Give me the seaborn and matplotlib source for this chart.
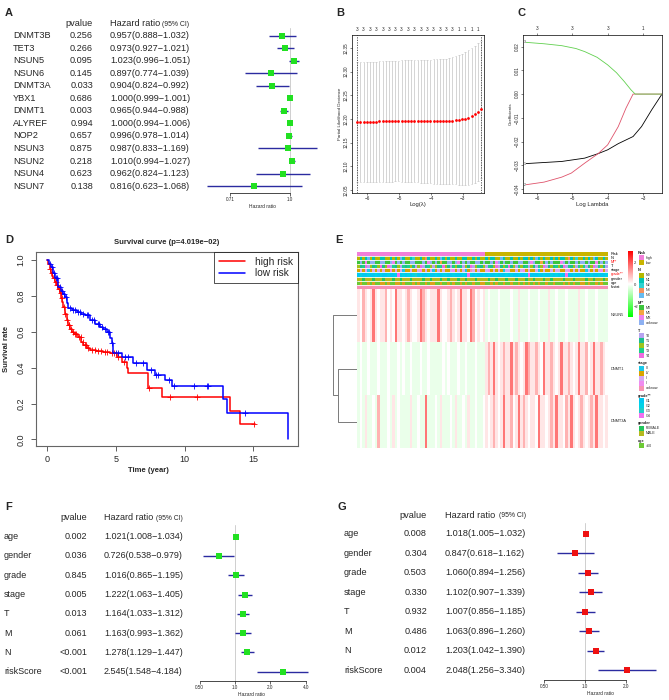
import numpy as np
import matplotlib
matplotlib.use("Agg")
import matplotlib.pyplot as plt
import seaborn as sns
from matplotlib.colors import ListedColormap, LinearSegmentedColormap
from matplotlib.lines import Line2D
from matplotlib.patches import Rectangle
from matplotlib.ticker import NullLocator

# ---------------- A : univariate cox, m5C regulators ----------------
a_genes = ["DNMT3B", "TET3", "NSUN5", "NSUN6", "DNMT3A", "YBX1", "DNMT1",
           "ALYREF", "NOP2", "NSUN3", "NSUN2", "NSUN4", "NSUN7"]
a_pval = ["0.256", "0.266", "0.095", "0.145", "0.033", "0.686", "0.003",
          "0.994", "0.657", "0.875", "0.218", "0.623", "0.138"]
a_hr = [0.957, 0.973, 1.023, 0.897, 0.904, 1.000, 0.965, 1.000, 0.996, 0.987, 1.010, 0.962, 0.816]
a_low = [0.888, 0.927, 0.996, 0.774, 0.824, 0.999, 0.944, 0.994, 0.978, 0.833, 0.994, 0.824, 0.623]
a_high = [1.032, 1.021, 1.051, 1.039, 0.992, 1.001, 0.988, 1.006, 1.014, 1.169, 1.027, 1.123, 1.068]

# ---------------- B : lasso cross validation ----------------
b_loglam = [-6.31, -6.21, -6.11, -6.01, -5.91, -5.81, -5.71, -5.61, -5.51, -5.41,
            -5.31, -5.21, -5.12, -5.02, -4.92, -4.82, -4.72, -4.62, -4.52, -4.42,
            -4.32, -4.22, -4.12, -4.02, -3.92, -3.82, -3.72, -3.62, -3.52, -3.43,
            -3.33, -3.23, -3.13, -3.03, -2.93, -2.83, -2.73, -2.63, -2.53, -2.44]
b_dev = [12.194, 12.194, 12.194, 12.194, 12.194, 12.194, 12.194, 12.195, 12.195, 12.195,
         12.195, 12.195, 12.196, 12.196, 12.196, 12.196, 12.196, 12.196, 12.196, 12.196,
         12.195, 12.195, 12.195, 12.195, 12.195, 12.195, 12.195, 12.195, 12.195, 12.196,
         12.196, 12.197, 12.198, 12.199, 12.201, 12.203, 12.206, 12.210, 12.215, 12.220]
b_se = [0.127, 0.127, 0.127, 0.127, 0.127, 0.127, 0.127, 0.127, 0.127, 0.127,
        0.127, 0.127, 0.127, 0.127, 0.128, 0.128, 0.128, 0.128, 0.128, 0.129,
        0.129, 0.129, 0.130, 0.130, 0.131, 0.131, 0.131, 0.132, 0.132, 0.133,
        0.134, 0.135, 0.137, 0.139, 0.140, 0.142, 0.143, 0.144, 0.145, 0.145]
b_nz = ["3", "3", "3", "3", "3", "3", "3", "3", "3", "3",
        "3", "3", "3", "3", "3", "3", "1", "1", "1", "1"]

# ---------------- C : lasso coefficient paths ----------------
c_green_x = [-6.31, -5.8, -5.3, -4.9, -4.65, -4.3, -4.0, -3.75, -3.53, -3.34, -3.22, -2.46]
c_green_y = [0.0218, 0.0212, 0.0204, 0.0192, 0.0179, 0.0155, 0.0123, 0.0090, 0.0053, 0.0018, 0.0, 0.0]
c_red_x = [-6.31, -5.8, -5.3, -5.03, -4.65, -4.27, -4.0, -3.7, -3.48, -3.28, -2.46]
c_red_y = [-0.0382, -0.0371, -0.0350, -0.0333, -0.0291, -0.0251, -0.0214, -0.0137, -0.0059, 0.0, 0.0]
c_black_x = [-6.31, -5.3, -4.65, -4.27, -4.0, -3.7, -3.28, -3.04, -2.75, -2.46]
c_black_y = [-0.0293, -0.0284, -0.0270, -0.0251, -0.0235, -0.0209, -0.0179, -0.0137, -0.0066, 0.0]
c_top_ticks = [-6, -5, -4, -3]
c_top_labels = ["3", "3", "3", "1"]

# ---------------- D : Kaplan-Meier ----------------
d_t_high = [0, 0.1, 0.2, 0.3, 0.4, 0.48, 0.6, 0.7, 0.8, 0.97, 1.05, 1.12, 1.2, 1.3, 1.45,
            1.55, 1.7, 1.81, 2.0, 2.29, 2.5, 2.66, 2.9, 3.14, 3.6, 4.11, 4.59, 5.08, 5.44,
            5.8, 5.92, 7.38, 8.35, 13.3, 14.03, 15.1]
d_s_high = [1.0, 0.98, 0.95, 0.93, 0.91, 0.898, 0.88, 0.86, 0.84, 0.814, 0.79, 0.765, 0.74,
            0.70, 0.665, 0.64, 0.615, 0.60, 0.585, 0.572, 0.545, 0.526, 0.51, 0.498, 0.493,
            0.489, 0.479, 0.461, 0.433, 0.396, 0.368, 0.284, 0.234, 0.158, 0.084, 0.084]
d_t_low = [0, 0.15, 0.3, 0.45, 0.6, 0.85, 1.0, 1.15, 1.33, 1.45, 1.57, 1.8, 2.18, 2.5, 2.78,
           3.14, 3.5, 3.87, 4.1, 4.35, 4.6, 4.72, 4.83, 5.44, 6.29, 7.26, 7.86, 8.59, 9.07,
           12.77, 13.06, 17.53]
d_s_low = [1.0, 0.98, 0.96, 0.93, 0.90, 0.851, 0.83, 0.81, 0.795, 0.76, 0.73, 0.72, 0.712,
           0.70, 0.693, 0.665, 0.645, 0.628, 0.615, 0.60, 0.565, 0.535, 0.48, 0.461, 0.424,
           0.386, 0.359, 0.331, 0.297, 0.223, 0.148, 0.0]
d_cens_high = [0.25, 0.35, 0.55, 0.65, 0.75, 0.9, 1.0, 1.1, 1.25, 1.35, 1.5, 1.6, 1.65, 1.75,
               1.9, 2.05, 2.15, 2.35, 2.45, 2.6, 2.75, 2.85, 3.0, 3.3, 3.5, 3.7, 3.9, 4.2,
               4.4, 4.7, 4.9, 5.2, 5.6, 7.45, 8.95, 10.9, 15.05]
d_cens_low = [0.2, 0.35, 0.5, 0.65, 0.75, 0.95, 1.1, 1.25, 1.4, 1.7, 1.9, 2.05, 2.3, 2.4,
              2.6, 2.9, 3.0, 3.3, 3.4, 3.7, 3.8, 4.0, 4.2, 4.45, 4.55, 4.75, 5.0, 5.2, 5.7,
              5.9, 6.5, 7.0, 7.6, 7.9, 8.1, 8.85, 9.2, 10.65, 11.6, 11.7, 14.4]

# ---------------- E : heatmap (one char per sample) ----------------
e_genes = ["NSUN5", "DNMT1", "DNMT3A"]
e_levels = {"g": -0.25, "w": 0.0, "p": 0.3, "r": 0.9, "R": 1.6}
e_nsun5 = ("pwrpwpRpwp" "prwpwRppwp" "rpwwpRrpwp" "ppRpwwprpw" "pRppwRrwpw"
           "pgwgggwggg" "gwggpgggwg" "ggwgggpggw" "gggwggggpg" "gwgggwgggg")
e_dnmt1 = ("gwggwgggwg" "ggwgggwgwg" "gwgggwggwg" "ggggwgwggg" "wggwgggwgg"
           "gprpRpwprp" "pRprpwpRrp" "prpwRpprpw" "pRpprpwpRp" "prwpRpprpw")
e_dnmt3a = ("gwgpggwgrg" "ggwgpgwggg" "gpggwggRgg" "gwgpgggwgp" "ggwgpggwgg"
            "wpwprpwpRp" "prwpRprpwp" "pwRppwprpR" "ppwrpRpwpr" "pwprpRppwp")

ann_names = ["Risk", "N", "M**", "T", "stage", "grade**", "gender", "age", "fustat"]
ann_risk = ("hhhhhhhhhh" "hhhhhhhhhh" "hhhhhhhhhh" "hhhhhhhhhh" "hhhhhhhhhh"
            "hlllllllll" "llllllllll" "llllllllll" "llllllllll" "llllllllll")
ann_n = ("0101x01001" "1001010x10" "0120010310" "010x101001" "0011001010"
         "0101100x10" "0100101101" "0x10100101" "0110310200" "1010x10010")
ann_m = ("gugxguuggu" "ugguxgugug" "guugggugxu" "gug1gguugu" "xgugugguug"
         "uggugxugug" "gugguuggux" "ugg1gugugg" "gxuguggugu" "uguggxgugu")
ann_t = ("2134021324" "1240312031" "3210240132" "0213421032" "1302140231"
         "2031240123" "4120321302" "1032401213" "2140312032" "3012403210")
ann_stage = ("ylylcylyly" "lyypylylcy" "ylyylpylyl" "cylylyylpy" "lylcyulyly"
             "ylpylylycl" "lyylylpyly" "ylcylyylyl" "lyylpylyly" "yclylylpyl")
ann_grade = ("abaabaabab" "aabaabdaba" "babcabaaba" "abaabbaaba" "aabadbabaa"
             "babaabaaab" "abaabaabda" "aababaabab" "abadaabaab" "baabaabaab")
ann_gender = ("mmfmmmfmmm" "fmmmfmmfmm" "mfmmmmfmmf" "mmmfmmfmmm" "fmmfmmmfmm"
              "mmfmmfmmmf" "mmmfmmmfmm" "fmmmfmmfmm" "mmfmmmfmmm" "mfmmfmmmfm")
ann_age = (">o>>o>o>>o" "o>o>>oo>o>" ">>o>o>>o>o" "o>>o>>o>o>" ">o>o>>o>>o"
           "o>>o>o>>o>" ">o>>o>o>o>" "o>o>>o>>o>" ">>o>o>o>>o" "o>o>>o>o>>")
ann_fustat = ("aaaaaaaaaa" "aaaaaaaaaa" "aaaaaaaaaa" "aaaaaaaaaa" "aaaaaaaaaa"
              "aaaaaaaaaa" "aaaaaaaaaa" "aaaaaaaaaa" "aaaaaaaaaa" "aaaaaaaaaa")
ann_colors = [
    {"h": "#F27ED9", "l": "#C9B400"},
    {"0": "#B5B800", "1": "#00C4B4", "2": "#2ED1D1", "3": "#F4915E", "x": "#66BBF0"},
    {"g": "#3CC43C", "1": "#F4A442", "x": "#EE82EE", "u": "#8EB1F2"},
    {"0": "#B7A3F0", "1": "#1CC08C", "2": "#9CC41C", "3": "#1CD08C", "4": "#F06CE0"},
    {"c": "#1CC8E8", "y": "#D9A500", "l": "#D6A8F2", "p": "#F08CF0", "u": "#F794B4"},
    {"a": "#00C8F0", "b": "#00D2E6", "c": "#20CEC8", "d": "#F070F0"},
    {"f": "#22C55E", "m": "#B5B91E"},
    {">": "#6DC935", "o": "#D9A31A"},
    {"a": "#F78FB3"},
]
ann_legend = [
    ("Risk", ["high", "low"], ["#F27ED9", "#C9B400"]),
    ("N", ["N0", "N1", "N2", "N3", "NX"], ["#B5B800", "#00C4B4", "#2ED1D1", "#F4915E", "#66BBF0"]),
    ("M**", ["M0", "M1", "MX", "unknow"], ["#3CC43C", "#F4A442", "#EE82EE", "#8EB1F2"]),
    ("T", ["T0", "T1", "T2", "T3", "T4"], ["#B7A3F0", "#1CC08C", "#9CC41C", "#1CD08C", "#F06CE0"]),
    ("stage", ["III", "IV", "I", "II", "unknow"], ["#1CC8E8", "#D9A500", "#D6A8F2", "#F08CF0", "#F794B4"]),
    ("grade**", ["G1", "G2", "G3", "G4"], ["#00C8F0", "#00D2E6", "#20CEC8", "#F070F0"]),
    ("gender", ["FEMALE", "MALE"], ["#22C55E", "#B5B91E"]),
    ("age", [">60"], ["#6DC935"]),
]

# ---------------- F / G : uni- and multivariate cox ----------------
fg_vars = ["age", "gender", "grade", "stage", "T", "M", "N", "riskScore"]
f_pval = ["0.002", "0.036", "0.845", "0.005", "0.013", "0.061", "<0.001", "<0.001"]
f_hr = [1.021, 0.726, 1.016, 1.222, 1.164, 1.163, 1.278, 2.545]
f_low = [1.008, 0.538, 0.865, 1.063, 1.033, 0.993, 1.129, 1.548]
f_high = [1.034, 0.979, 1.195, 1.405, 1.312, 1.362, 1.447, 4.184]
g_pval = ["0.008", "0.304", "0.503", "0.330", "0.932", "0.486", "0.012", "0.004"]
g_hr = [1.018, 0.847, 1.060, 1.102, 1.007, 1.063, 1.203, 2.048]
g_low = [1.005, 0.618, 0.894, 0.907, 0.856, 0.896, 1.042, 1.256]
g_high = [1.032, 1.162, 1.256, 1.339, 1.185, 1.260, 1.390, 3.340]

sns.set_theme(style="white")
plt.rcParams["font.family"] = ["Liberation Sans", "DejaVu Sans"]

W, H = 669, 700
fig = plt.figure(figsize=(W / 100, H / 100), dpi=100)
fig.patch.set_facecolor("white")


def add_ax(x0, y0, x1, y1):
    # pixel box, origin top-left
    return fig.add_axes([x0 / W, 1 - y1 / H, (x1 - x0) / W, (y1 - y0) / H])


def forest(box, one_px, px_per2, row0, dy, hr, lo, hi, color, size, ticks, ticklabs):
    x0, y0, x1, y1 = box
    ax = add_ax(*box)
    ax.set_facecolor("none")
    ax.set_xscale("log", base=2)
    rows = np.arange(len(hr))
    ax.axvline(1, color="#CFCFCF", lw=0.7, zorder=1)
    ax.hlines(rows, lo, hi, color="#2B2BA0", lw=1.0, zorder=2)
    sns.scatterplot(x=hr, y=rows, marker="s", s=size, color=color, linewidth=0,
                    ax=ax, zorder=3)
    ax.set_xlim(2 ** ((x0 - one_px) / px_per2), 2 ** ((x1 - one_px) / px_per2))
    ax.set_ylim((y1 - row0) / dy, (y0 - row0) / dy)
    for s in ["top", "right", "left"]:
        ax.spines[s].set_visible(False)
    ax.spines["bottom"].set_bounds(ticks[0], ticks[-1])
    ax.spines["bottom"].set_color("black")
    ax.spines["bottom"].set_linewidth(0.5)
    ax.set_xticks(ticks)
    ax.set_xticklabels(ticklabs, fontsize=3.3)
    ax.xaxis.set_minor_locator(NullLocator())
    ax.set_yticks([])
    ax.tick_params(axis="x", bottom=True, length=2, width=0.5, pad=1.2)
    ax.set_xlabel("Hazard ratio", fontsize=3.5, labelpad=1)
    return ax


# ---- A ----
forest((200, 28, 325, 192.7), 290, 121.5, 35.7, 12.53, a_hr, a_low, a_high,
       "#22E022", 19, [0.71, 1.0], ["0.71", "1.0"])
# ---- F ----
forest((190, 525, 312, 680.7), 235, 35.3, 536.7, 19.29, f_hr, f_low, f_high,
       "#22E022", 23, [0.5, 1.0, 2.0, 4.0], ["0.50", "1.0", "2.0", "4.0"])
# ---- G ----
forest((535, 523, 665, 680), 585, 40.7, 534, 19.43, g_hr, g_low, g_high,
       "#EE1111", 23, [0.5, 1.0, 2.0], ["0.50", "1.0", "2.0"])

# ---- B ----
axB = add_ax(352, 35, 484, 193)
b_up = np.array(b_dev) + np.array(b_se)
b_lo = np.array(b_dev) - np.array(b_se)
bx = np.array(b_loglam)
axB.vlines(bx, b_lo, b_up, color="#C4C4C4", lw=0.5)
axB.hlines(b_up, bx - 0.025, bx + 0.025, color="#C4C4C4", lw=0.5)
axB.hlines(b_lo, bx - 0.025, bx + 0.025, color="#C4C4C4", lw=0.5)
sns.scatterplot(x=b_loglam, y=b_dev, color="red", s=4, linewidth=0, ax=axB, zorder=3)
axB.axvline(b_loglam[0], color="#444444", lw=0.6, ls=(0, (1.5, 1.5)))
axB.axvline(b_loglam[-1], color="#444444", lw=0.6, ls=(0, (1.5, 1.5)))
axB.set_xlim(-6.47, -2.34)
axB.set_ylim(12.044, 12.377)
axB.set_xticks([-6, -5, -4, -3])
axB.set_yticks([12.05, 12.10, 12.15, 12.20, 12.25, 12.30, 12.35])
axB.set_yticklabels(["12.05", "12.10", "12.15", "12.20", "12.25", "12.30", "12.35"],
                    rotation=90, va="center")
axB.tick_params(bottom=True, left=True, length=1.5, width=0.4, labelsize=3.3, pad=1)
axB.set_xlabel("Log(\u03bb)", fontsize=4.2, labelpad=0.5)
axB.set_ylabel("Partial Likelihood Deviance", fontsize=3.2, labelpad=1)
for sp in axB.spines.values():
    sp.set_color("black")
    sp.set_linewidth(0.5)
secB = axB.secondary_xaxis("top")
secB.set_xticks(b_loglam[::2])
secB.set_xticklabels(b_nz)
secB.tick_params(length=0, labelsize=3.3, pad=2)
secB.spines["top"].set_visible(False)

# ---- C ----
axC = add_ax(523, 35, 662, 193)
sns.lineplot(x=c_black_x, y=c_black_y, color="black", lw=0.6, estimator=None, sort=False, ax=axC)
sns.lineplot(x=c_red_x, y=c_red_y, color="#DF536B", lw=0.6, estimator=None, sort=False, ax=axC)
sns.lineplot(x=c_green_x, y=c_green_y, color="#61D04F", lw=0.6, estimator=None, sort=False, ax=axC)
axC.text(-6.36, c_green_y[0], "3", fontsize=2.4, ha="center", va="center")
axC.text(-6.36, c_black_y[0], "1", fontsize=2.4, ha="center", va="center")
axC.text(-6.36, c_red_y[0], "2", fontsize=2.4, ha="center", va="center")
axC.set_xlim(-6.40, -2.46)
axC.set_ylim(-0.0417, 0.0249)
axC.set_xticks([-6, -5, -4, -3])
axC.set_yticks([-0.04, -0.03, -0.02, -0.01, 0.0, 0.01, 0.02])
axC.set_yticklabels(["\u22120.04", "\u22120.03", "\u22120.02", "\u22120.01", "0.00", "0.01", "0.02"],
                    rotation=90, va="center")
axC.tick_params(bottom=True, left=True, length=1.5, width=0.4, labelsize=3.3, pad=1)
axC.set_xlabel("Log Lambda", fontsize=4.2, labelpad=0.5)
axC.set_ylabel("Coefficients", fontsize=3.2, labelpad=1)
for sp in axC.spines.values():
    sp.set_color("black")
    sp.set_linewidth(0.5)
secC = axC.secondary_xaxis("top")
secC.set_xticks(c_top_ticks)
secC.set_xticklabels(c_top_labels)
secC.tick_params(top=True, length=1.5, width=0.4, labelsize=3.3, pad=1.5)
secC.spines["top"].set_visible(False)

# ---- D ----
def surv_at(times, surv, pts):
    idx = np.searchsorted(times, pts, side="right") - 1
    return np.asarray(surv)[idx]


axD = add_ax(36, 252, 298, 446)
sns.lineplot(x=d_t_high, y=d_s_high, drawstyle="steps-post", estimator=None, sort=False,
             color="red", lw=1.1, ax=axD)
sns.lineplot(x=d_t_low, y=d_s_low, drawstyle="steps-post", estimator=None, sort=False,
             color="blue", lw=1.1, ax=axD)
sns.scatterplot(x=d_cens_high, y=surv_at(d_t_high, d_s_high, d_cens_high), marker="+",
                s=22, color="red", linewidth=0.6, ax=axD)
sns.scatterplot(x=d_cens_low, y=surv_at(d_t_low, d_s_low, d_cens_low), marker="+",
                s=22, color="blue", linewidth=0.6, ax=axD)
axD.set_xlim(-0.78, 18.23)
axD.set_ylim(-0.037, 1.045)
axD.set_xticks([0, 5, 10, 15])
axD.set_yticks([0, 0.2, 0.4, 0.6, 0.8, 1.0])
axD.set_yticklabels(["0.0", "0.2", "0.4", "0.6", "0.8", "1.0"], rotation=90, va="center")
axD.tick_params(axis="x", bottom=True, length=3.5, width=0.6, labelsize=6.5, pad=3, color="#444444")
axD.tick_params(axis="y", left=True, length=3.5, width=0.6, labelsize=6.5, pad=4, color="#444444")
for sp in axD.spines.values():
    sp.set_color("#666666")
    sp.set_linewidth(0.8)
handles = [Line2D([], [], color="red", lw=1.1), Line2D([], [], color="blue", lw=1.1)]
leg = axD.legend(handles, ["high risk", "low risk"], loc="upper right", bbox_to_anchor=(1, 1),
                 borderaxespad=0, frameon=True, fancybox=False, edgecolor="black",
                 fontsize=7.3, handlelength=2.6, handletextpad=1.0, borderpad=0.45,
                 labelspacing=0.15)
leg.get_frame().set_linewidth(0.6)

# ---- E ----
cmap_e = LinearSegmentedColormap.from_list("gwr", ["#00FF00", "#FFFFFF", "#FF0000"])
e_mat = np.array([[e_levels[c] for c in s] for s in [e_nsun5, e_dnmt1, e_dnmt3a]])
axE = add_ax(357, 289, 608, 448)
cax = add_ax(628, 251, 632.5, 317)
sns.heatmap(e_mat, cmap=cmap_e, vmin=-3, vmax=3, ax=axE, cbar_ax=cax,
            xticklabels=False, yticklabels=False, cbar_kws={"ticks": [-2, 0, 2]})
cax.tick_params(labelsize=3, length=0, pad=1)
cax.set_yticklabels(["\u22122", "0", "2"])

ann_strings = [ann_risk, ann_n, ann_m, ann_t, ann_stage, ann_grade, ann_gender, ann_age, ann_fustat]
palette = []
ann_mat = []
for s, cmap_row in zip(ann_strings, ann_colors):
    keys = list(cmap_row.keys())
    base = len(palette)
    palette.extend(cmap_row[k] for k in keys)
    ann_mat.append([base + keys.index(c) for c in s])
ann_mat = np.array(ann_mat)
axAnn = add_ax(357, 251.7, 608, 289)
sns.heatmap(ann_mat, cmap=ListedColormap(palette), vmin=-0.5, vmax=len(palette) - 0.5,
            cbar=False, xticklabels=False, yticklabels=False, ax=axAnn)
for i in range(1, len(ann_strings)):
    axAnn.axhline(i, color="white", lw=0.6)

# dendrogram of the three genes
den_h = [0.79, 1.0]
axDen = add_ax(332, 289, 357, 448)
axDen.plot([0, den_h[0], den_h[0], 0], [1.5, 1.5, 2.5, 2.5], color="#7A7A7A", lw=0.7)
axDen.plot([0, den_h[1], den_h[1], den_h[0]], [0.5, 0.5, 2.0, 2.0], color="#7A7A7A", lw=0.7)
axDen.set_xlim(1.03, 0)
axDen.set_ylim(3, 0)
axDen.axis("off")

# ---------------- overlay for text in pixel coords ----------------
ov = fig.add_axes([0, 0, 1, 1])
ov.set_xlim(0, W)
ov.set_ylim(H, 0)
ov.axis("off")

for lab, x, y in [("A", 5, 13), ("B", 336, 13), ("C", 518, 13), ("D", 5, 240),
                  ("E", 335, 240), ("F", 5, 507), ("G", 337, 507)]:
    ov.text(x, y, lab, fontsize=8, fontweight="bold", ha="left", va="center")


def forest_text(x_name, x_p, x_hr, x_ci, y_head, row0, dy, names, pvals, hr, lo, hi, fs):
    ov.text(x_p, y_head, "pvalue", fontsize=fs, ha="right", va="center")
    ov.text(x_hr, y_head, "Hazard ratio", fontsize=fs, ha="left", va="center")
    ov.text(x_ci, y_head + 0.5, "(95% CI)", fontsize=fs * 0.75, ha="left", va="center")
    for i, (n, p, h, l, u) in enumerate(zip(names, pvals, hr, lo, hi)):
        y = row0 + dy * i
        ov.text(x_name, y, n, fontsize=fs, ha="left", va="center")
        ov.text(x_p, y, p, fontsize=fs, ha="right", va="center")
        ov.text(x_hr, y, f"{h:.3f}({l:.3f}\u2212{u:.3f})", fontsize=fs, ha="left", va="center")


forest_text(13, 93, 110, 162, 24, 35.7, 12.53, a_genes, a_pval, a_hr, a_low, a_high, 6.6)
forest_text(4, 87, 104, 155.5, 517.5, 536.7, 19.29, fg_vars, f_pval, f_hr, f_low, f_high, 6.5)
forest_text(344, 427, 445, 499, 515, 534, 19.43, fg_vars, g_pval, g_hr, g_low, g_high, 6.6)

# D texts
ov.text(167, 243, "Survival curve (p=4.019e\u221202)", fontsize=5.5, fontweight="bold",
        ha="center", va="center")
ov.text(7, 349, "Survival rate", fontsize=5.5, fontweight="bold", rotation=90,
        ha="center", va="center")
ov.text(148, 470, "Time (year)", fontsize=5.5, fontweight="bold", ha="center", va="center")

# E row labels
ann_h = (289 - 251.7) / len(ann_names)
for i, n in enumerate(ann_names):
    ov.text(611, 251.7 + ann_h * (i + 0.5), n, fontsize=2.8, ha="left", va="center",
            color="red" if "**" in n else "black")
gene_h = (448 - 289) / len(e_genes)
for i, g in enumerate(e_genes):
    ov.text(611, 289 + gene_h * (i + 0.5), g, fontsize=2.8, ha="left", va="center")

# E annotation legend
y = 252.7
for title, labels, cols in ann_legend:
    ov.text(638, y, title, fontsize=2.8, fontweight="bold", ha="left", va="center")
    y += 5
    for lab, col in zip(labels, cols):
        ov.add_patch(Rectangle((639.3, y - 2.5), 5, 5, facecolor=col, edgecolor="none"))
        ov.text(645.5, y, lab, fontsize=2.6, ha="left", va="center")
        y += 5
    y += 2.6

fig.savefig("out.png", dpi=100, facecolor="white")
